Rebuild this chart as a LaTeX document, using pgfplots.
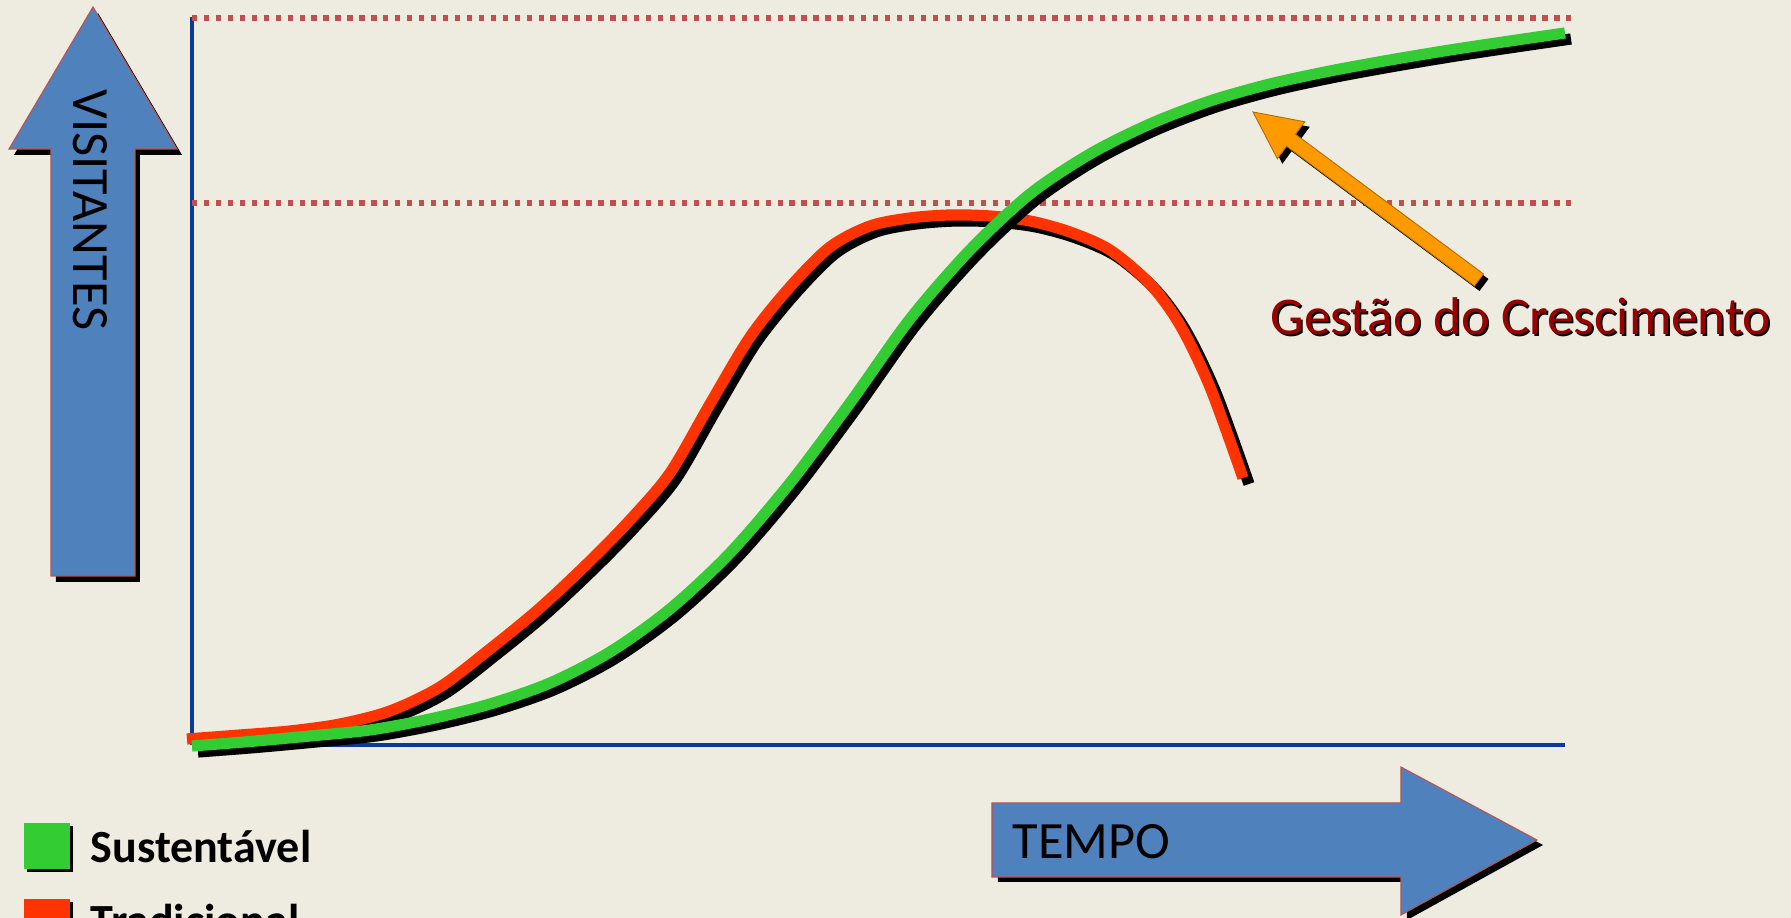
\documentclass[border=0pt]{standalone}
\usepackage{pgfplots}
\pgfplotsset{compat=1.18}
\usepackage{pgfplotstable}
\usepackage{fontspec}
\setmainfont{Carlito}
\definecolor{bgc}{HTML}{EEEBE0}
\definecolor{axisblue}{HTML}{0A3A9A}
\definecolor{dotred}{HTML}{C0504D}
\definecolor{curvegreen}{HTML}{33CC33}
\definecolor{curvered}{HTML}{FF3300}
\definecolor{arrowblue}{HTML}{4F81BD}
\definecolor{arroworange}{HTML}{FF9900}
\definecolor{darkred}{HTML}{990000}
\pgfdeclarelayer{bg}
\pgfsetlayers{bg,main}

\pgfplotstableread{
x y
187 179
240 183
290 187
340 194
390 207
440 231
490 269
540 310
590 357
630 398
670 445
710 514
750 581
790 631
830 671
870 692
910 700
950 703
990 702
1030 697
1070 686
1110 668
1150 634
1180 593
1210 531
1243 440
}\redtab

\pgfplotstableread{
x y
192 172
250 176.5
310 182
370 188
430 199
490 214
550 235
610 266
670 309
730 365
790 435
850 515
910 599
970 668
1030 724
1090 764
1150 794
1210 817
1270 834
1330 847
1390 858
1450 868
1510 877
1565 885
}\greentab

\begin{document}
\begin{tikzpicture}
\begin{axis}[
  scale only axis,
  width=13.73cm, height=7.28cm,
  xmin=192, xmax=1565, ymin=173, ymax=901,
  axis x line*=bottom, axis y line*=left,
  axis line style={color=axisblue, line width=0.95pt},
  xtick=\empty, ytick=\empty,
  clip=false,
]
\coordinate (BL) at (axis cs:0,0);
\coordinate (TR) at (axis cs:1791,918);

% dotted reference lines
\addplot[dotred, line width=1.5pt, dash pattern=on 1.5pt off 1.9pt] coordinates {(192,900) (1575,900)};
\addplot[dotred, line width=1.5pt, dash pattern=on 1.5pt off 1.9pt] coordinates {(192,715) (1575,715)};

% VISITANTES arrow
\fill[black, xshift=0.05cm, yshift=-0.06cm] (axis cs:93,911) -- (axis cs:177,769) -- (axis cs:135,769) -- (axis cs:135,342) -- (axis cs:51,342) -- (axis cs:51,769) -- (axis cs:9,769) -- cycle;
\filldraw[fill=arrowblue, draw=dotred, line width=0.3pt] (axis cs:93,911) -- (axis cs:177,769) -- (axis cs:135,769) -- (axis cs:135,342) -- (axis cs:51,342) -- (axis cs:51,769) -- (axis cs:9,769) -- cycle;
\node[rotate=-90, anchor=center, font=\fontsize{14.9}{18}\selectfont, inner sep=0pt] at (axis cs:90.5,708) {VISITANTES};

% TEMPO arrow
\fill[black, xshift=0.06cm, yshift=-0.05cm] (axis cs:992,115) -- (axis cs:1401,115) -- (axis cs:1401,151) -- (axis cs:1537,78) -- (axis cs:1401,3) -- (axis cs:1401,41) -- (axis cs:992,41) -- cycle;
\filldraw[fill=arrowblue, draw=dotred, line width=0.3pt] (axis cs:992,115) -- (axis cs:1401,115) -- (axis cs:1401,151) -- (axis cs:1537,78) -- (axis cs:1401,3) -- (axis cs:1401,41) -- (axis cs:992,41) -- cycle;
\node[anchor=base west, font=\fontsize{14.9}{18}\selectfont, inner sep=0pt] at (axis cs:1012,59) {TEMPO};

% curves with shadows
\addplot[black, line width=0.112cm, smooth] table[x expr=\thisrow{x}+6, y expr=\thisrow{y}-6] {\redtab};
\addplot[curvered, line width=0.112cm, smooth] table[x=x, y=y] {\redtab};
\addplot[black, line width=0.112cm, smooth] table[x expr=\thisrow{x}+6, y expr=\thisrow{y}-6] {\greentab};
\addplot[curvegreen, line width=0.112cm, smooth] table[x=x, y=y] {\greentab};

% orange arrow
\fill[black, xshift=0.05cm, yshift=-0.05cm] (axis cs:1483.5,644.0) -- (axis cs:1295.6,783.7) -- (axis cs:1304.8,796.2) -- (axis cs:1253,806) -- (axis cs:1277.4,759.2) -- (axis cs:1286.6,771.7) -- (axis cs:1474.5,632.0) -- cycle;
\filldraw[fill=arroworange, draw=arroworange!70!black, line width=0.25pt] (axis cs:1483.5,644.0) -- (axis cs:1295.6,783.7) -- (axis cs:1304.8,796.2) -- (axis cs:1253,806) -- (axis cs:1277.4,759.2) -- (axis cs:1286.6,771.7) -- (axis cs:1474.5,632.0) -- cycle;

% annotation text
\node[anchor=base west, font=\fontsize{15.1}{18}\selectfont, inner sep=0pt, text=black, xshift=0.02cm, yshift=-0.02cm] at (axis cs:1270,583) {Gestão do Crescimento};
\node[anchor=base west, font=\fontsize{15.1}{18}\selectfont, inner sep=0pt, text=darkred] at (axis cs:1270,583) {Gestão do Crescimento};

% legend
\fill[black, xshift=0.03cm, yshift=-0.03cm] (axis cs:24,49) rectangle (axis cs:70,95);
\fill[curvegreen] (axis cs:24,49) rectangle (axis cs:70,95);
\node[anchor=base west, font=\fontsize{13.1}{16}\selectfont\bfseries, inner sep=0pt] at (axis cs:90,55) {Sustentável};
\fill[black, xshift=0.03cm, yshift=-0.03cm] (axis cs:24,-27) rectangle (axis cs:70,19);
\fill[curvered] (axis cs:24,-27) rectangle (axis cs:70,19);
\node[anchor=base west, font=\fontsize{13.1}{16}\selectfont\bfseries, inner sep=0pt] at (axis cs:90,-19) {Tradicional};
\end{axis}
\begin{pgfonlayer}{bg}
\fill[bgc] (BL) rectangle (TR);
\end{pgfonlayer}
\pgfresetboundingbox
\useasboundingbox (BL) rectangle (TR);
\end{tikzpicture}
\end{document}
